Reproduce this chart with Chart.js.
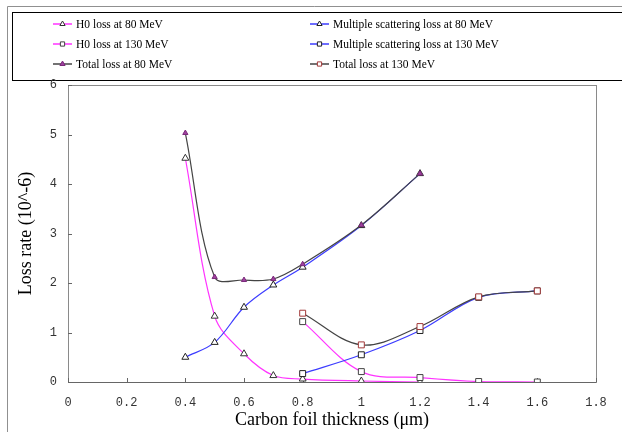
<!DOCTYPE html>
<html>
<head>
<meta charset="utf-8">
<script src="https://cdn.jsdelivr.net/npm/chart.js@4"></script>
<style>
  html, body { margin: 0; padding: 0; background: #fff; }
  #lossChart { display: block; }
</style>
</head>
<body>
<canvas id="lossChart" width="622" height="432"></canvas>
<script>
// foil thickness (um) for each beam energy
const thickness80 = [0.4, 0.5, 0.6, 0.7, 0.8, 1.0, 1.2];
const thickness130 = [0.8, 1.0, 1.2, 1.4, 1.6];

// loss rates, in units of 10^-6
const h0Loss80 = [4.52, 1.33, 0.57, 0.13, 0.06, 0.02, 0.0];
const msLoss80 = [0.50, 0.80, 1.51, 1.96, 2.32, 3.16, 4.21];
const totalLoss80 = [5.03, 2.12, 2.06, 2.08, 2.38, 3.17, 4.21];
const h0Loss130 = [1.22, 0.21, 0.09, 0.01, 0.0];
const msLoss130 = [0.17, 0.55, 1.04, 1.71, 1.84];
const totalLoss130 = [1.39, 0.75, 1.12, 1.72, 1.84];

const seriesLabels = [
    'H0 loss at 80 MeV',
    'Multiple scattering loss at 80 MeV',
    'H0 loss at 130 MeV',
    'Multiple scattering loss at 130 MeV',
    'Total loss at 80 MeV',
    'Total loss at 130 MeV'
];

const xTicks = [0, 0.2, 0.4, 0.6, 0.8, 1.0, 1.2, 1.4, 1.6, 1.8];
const yTicks = [0, 1, 2, 3, 4, 5, 6];

function points(xs, ys) {
    return xs.map((x, i) => ({ x: x, y: ys[i] }));
}

function series(i, xs, ys, line, style, edge, fill, radius) {
    return {
        label: seriesLabels[i],
        data: points(xs, ys),
        borderColor: line,
        borderWidth: 1.2,
        pointStyle: style,
        pointRadius: radius,
        pointBorderColor: edge,
        pointBackgroundColor: fill,
        pointBorderWidth: 1,
        tension: 0.35,
        order: 6 - i
    };
}

const datasets = [
    series(0, thickness80, h0Loss80, '#ff33ff', 'triangle', '#333', '#fff', 4),
    series(1, thickness80, msLoss80, '#3c3cff', 'triangle', '#222', '#fff', 4),
    series(2, thickness130, h0Loss130, '#ff33ff', 'rect', '#444', '#fff', 4.2),
    series(3, thickness130, msLoss130, '#3c3cff', 'rect', '#222', '#fff', 4.2),
    series(4, thickness80, totalLoss80, '#444', 'triangle', '#7a2a7a', '#a040a0', 3),
    series(5, thickness130, totalLoss130, '#444', 'rect', '#a33a3a', '#fff', 4.2)
];

// frame round the whole chart and the boxed legend at the top
const legendBox = {
    id: 'legendBox',
    beforeDraw(chart) {
        const ctx = chart.ctx;
        ctx.save();
        ctx.fillStyle = '#fff';
        ctx.fillRect(0, 0, chart.width, chart.height);
        ctx.strokeStyle = '#909090';
        ctx.lineWidth = 1;
        ctx.beginPath();
        ctx.moveTo(7.5, chart.height);
        ctx.lineTo(7.5, 6.5);
        ctx.lineTo(chart.width, 6.5);
        ctx.stroke();
        ctx.strokeStyle = '#000';
        ctx.strokeRect(12.5, 12.5, chart.width, 68);
        ctx.restore();
    },
    afterDraw(chart) {
        const ctx = chart.ctx;
        const colX = [53, 310];
        const rowY = [24, 44, 64];
        ctx.save();
        ctx.textBaseline = 'middle';
        chart.data.datasets.forEach((ds, i) => {
            const x = colX[i % 2];
            const y = rowY[Math.floor(i / 2)];
            ctx.strokeStyle = ds.borderColor;
            ctx.lineWidth = 1.5;
            ctx.beginPath();
            ctx.moveTo(x, y);
            ctx.lineTo(x + 19, y);
            ctx.stroke();
            ctx.strokeStyle = ds.pointBorderColor;
            ctx.fillStyle = ds.pointBackgroundColor;
            ctx.lineWidth = 1;
            Chart.helpers.drawPoint(ctx, { pointStyle: ds.pointStyle, radius: 3, rotation: 0, borderWidth: 1 }, x + 9.5, y);
            // labels are set a little narrow
            ctx.save();
            ctx.translate(x + 23, y + 1);
            ctx.scale(0.92, 1);
            ctx.font = '12.5px "Liberation Serif"';
            ctx.fillStyle = '#000';
            ctx.fillText(ds.label, 0, 0);
            ctx.restore();
        });
        ctx.restore();
    }
};

// plot border with short inward tick marks
const plotFrame = {
    id: 'plotFrame',
    beforeDatasetsDraw(chart) {
        const { ctx, chartArea: a, scales } = chart;
        ctx.save();
        ctx.strokeStyle = '#8a8a8a';
        ctx.lineWidth = 1;
        ctx.strokeRect(Math.round(a.left) + 0.5, Math.round(a.top) + 0.5,
            Math.round(a.right - a.left), Math.round(a.bottom - a.top));
        ctx.strokeStyle = '#666';
        ctx.beginPath();
        xTicks.forEach(v => {
            const px = Math.round(scales.x.getPixelForValue(v)) + 0.5;
            ctx.moveTo(px, Math.round(a.bottom));
            ctx.lineTo(px, Math.round(a.bottom) - 4);
        });
        yTicks.forEach(v => {
            const py = Math.round(scales.y.getPixelForValue(v)) + 0.5;
            ctx.moveTo(Math.round(a.left), py);
            ctx.lineTo(Math.round(a.left) + 4, py);
        });
        ctx.stroke();
        ctx.beginPath();
        ctx.moveTo(a.left, Math.round(a.bottom) + 0.5);
        ctx.lineTo(a.right, Math.round(a.bottom) + 0.5);
        ctx.stroke();
        ctx.restore();
    }
};

const tickFont = { family: '"Liberation Mono", monospace', size: 12 };
const titleFont = { family: '"Liberation Serif", serif', size: 18 };

new Chart(document.getElementById('lossChart'), {
    type: 'line',
    data: { datasets: datasets },
    options: {
        responsive: false,
        animation: false,
        layout: { padding: { top: 85, right: 26, left: 0, bottom: 0 } },
        plugins: {
            legend: { display: false },
            tooltip: { enabled: false }
        },
        scales: {
            x: {
                type: 'linear',
                min: 0,
                max: 1.8,
                afterFit: s => { s.height = 50; },
                afterBuildTicks: s => { s.ticks = xTicks.map(v => ({ value: v })); },
                grid: { display: false, drawTicks: false },
                border: { display: false },
                ticks: {
                    color: '#333',
                    font: tickFont,
                    padding: 14,
                    maxRotation: 0,
                    callback: v => String(Math.round(v * 10) / 10)
                },
                title: {
                    display: true,
                    text: 'Carbon foil thickness (μm)',
                    color: '#000',
                    font: titleFont,
                    padding: { top: 0, bottom: 1 }
                }
            },
            y: {
                min: 0,
                max: 6,
                afterFit: s => { s.width = 68; },
                afterBuildTicks: s => { s.ticks = yTicks.map(v => ({ value: v })); },
                grid: { display: false, drawTicks: false },
                border: { display: false },
                ticks: { color: '#333', font: tickFont, padding: 11 },
                title: {
                    display: true,
                    text: 'Loss rate (10^-6)',
                    color: '#000',
                    font: titleFont,
                    padding: { top: 15, bottom: 0 }
                }
            }
        }
    },
    plugins: [legendBox, plotFrame]
});
</script>
</body>
</html>
